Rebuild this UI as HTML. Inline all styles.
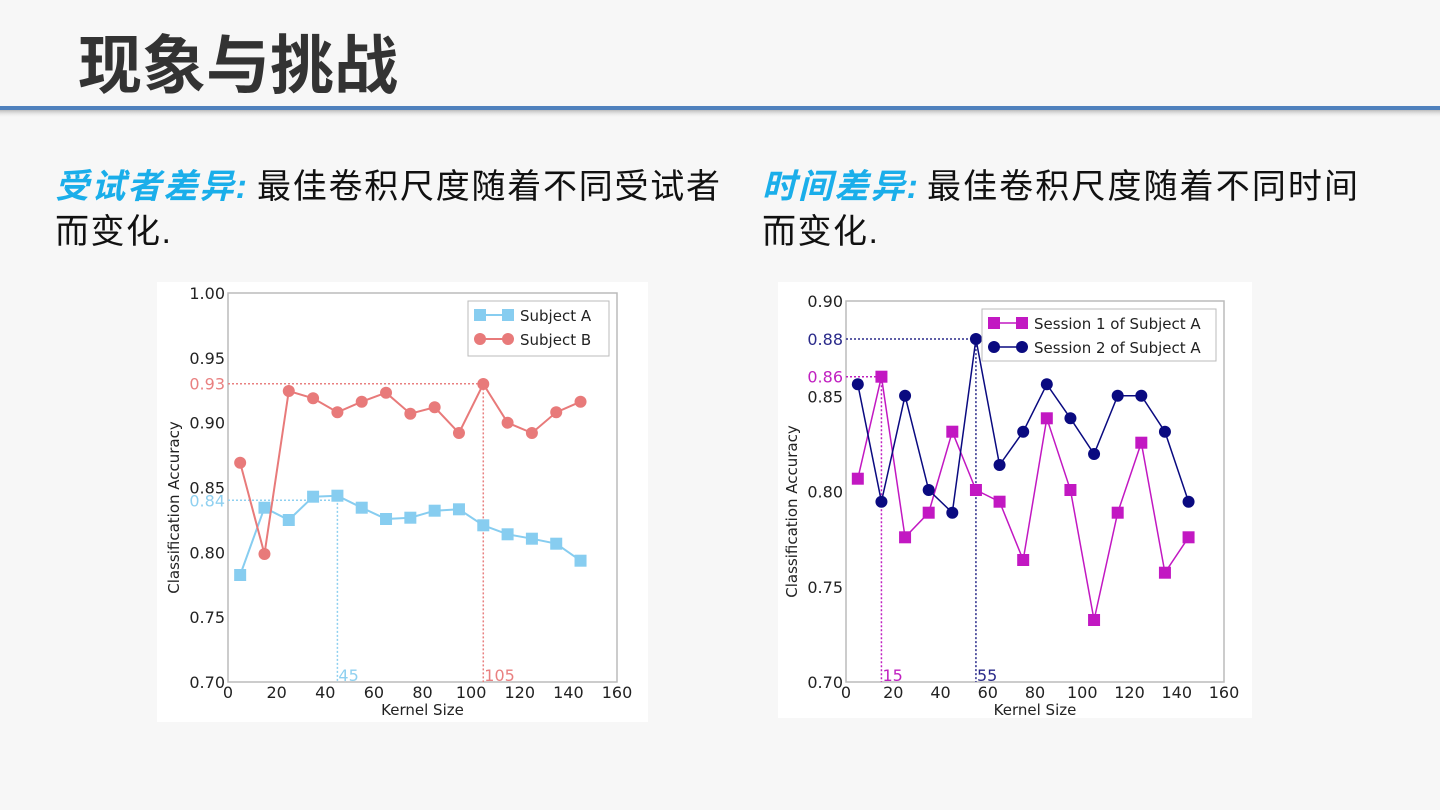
<!DOCTYPE html>
<html><head><meta charset="utf-8"><style>
html,body{margin:0;padding:0;width:1440px;height:810px;overflow:hidden;background:#f7f7f7}
svg{display:block}
</style></head><body>
<svg id="s" width="1440" height="810" xmlns="http://www.w3.org/2000/svg" font-family="'Liberation Sans','Noto Sans CJK SC',sans-serif">
<defs><linearGradient id="sh" x1="0" y1="0" x2="0" y2="1"><stop offset="0" stop-color="#bbb"/><stop offset="1" stop-color="#f7f7f7" stop-opacity="0"/></linearGradient></defs>
<rect width="1440" height="810" fill="#f7f7f7"/>
<text x="78" y="88" font-size="64" font-weight="bold" fill="#333" textLength="320" font-family="'Noto Sans CJK SC',sans-serif">现象与挑战</text>
<rect x="0" y="110" width="1440" height="8" fill="url(#sh)"/>
<rect x="0" y="106" width="1440" height="4" fill="#4f81bd"/>
<g font-family="'Liberation Sans','Noto Sans CJK SC',sans-serif" font-size="34">
<text x="55" y="198" fill="#1aaeea" font-weight="bold" font-style="italic" textLength="192">受试者差异:</text>
<text x="257" y="198" fill="#111" textLength="463">最佳卷积尺度随着不同受试者</text>
<text x="55" y="243" fill="#111" textLength="116">而变化.</text>
<text x="762" y="198" fill="#1aaeea" font-weight="bold" font-style="italic" textLength="156">时间差异:</text>
<text x="927" y="198" fill="#111" textLength="431">最佳卷积尺度随着不同时间</text>
<text x="762" y="243" fill="#111" textLength="116">而变化.</text>
</g>
<rect x="157" y="282" width="491" height="440" fill="#fff"/>
<rect x="778" y="282" width="474" height="436" fill="#fff"/>
<g id="c1" font-family="'DejaVu Sans',sans-serif"></g><g id="c2" font-family="'DejaVu Sans',sans-serif"></g>
</svg>
<script>
var NS="http://www.w3.org/2000/svg";
function el(p,t,a,txt){var e=document.createElementNS(NS,t);for(var k in a)e.setAttribute(k,a[k]);if(txt!=null)e.textContent=txt;p.appendChild(e);return e;}
function chart(g,o){
 var X=function(v){return o.x0+(o.x1-o.x0)*v/160};
 var Y=function(v){return o.y1-(o.y1-o.y0)*(v-o.ymin)/(o.ymax-o.ymin)};
 el(g,"rect",{x:o.x0,y:o.y0,width:o.x1-o.x0,height:o.y1-o.y0,fill:"none",stroke:"#bbb","stroke-width":1.5});
 for(var i=0;i<=8;i++){var v=i*20;el(g,"text",{x:X(v),y:o.y1+16,"font-size":16,"text-anchor":"middle",fill:"#222"},String(v));}
 o.yt.forEach(function(v){el(g,"text",{x:o.x0-3,y:Y(v)+6,"font-size":16,"text-anchor":"end",fill:"#222"},v.toFixed(2));});
 el(g,"text",{x:(o.x0+o.x1)/2,y:o.y1+33,"font-size":15,"text-anchor":"middle",fill:"#222"},"Kernel Size");
 el(g,"text",{x:0,y:0,"font-size":15,"text-anchor":"middle",fill:"#222",transform:"translate("+(o.x0-49)+","+((o.y0+o.y1)/2+20)+") rotate(-90)"},"Classification Accuracy");
 o.refs.forEach(function(r){
  var px=X(r.x),py=r.py;
  el(g,"polyline",{points:o.x0+","+py+" "+px+","+py+" "+px+","+o.y1,fill:"none",stroke:r.c,"stroke-width":1.5,"stroke-dasharray":"2,2"});
  el(g,"text",{x:o.x0-3,y:py+6,"font-size":16,"text-anchor":"end",fill:r.c},r.yl);
  el(g,"text",{x:px+1,y:o.y1-1,"font-size":16,fill:r.c},String(r.x));
 });
 o.series.forEach(function(s){
  var pts=s.py.map(function(p,i){return X(5+10*i)+","+p}).join(" ");
  el(g,"polyline",{points:pts,fill:"none",stroke:s.c,"stroke-width":s.w});
  s.py.forEach(function(p,i){var x=X(5+10*i);
   if(s.m=="s")el(g,"rect",{x:x-6,y:p-6,width:12,height:12,fill:s.c});
   else el(g,"circle",{cx:x,cy:p,r:6,fill:s.c});});
 });
 var L=o.leg;
 el(g,"rect",{x:L.x,y:L.y,width:L.w,height:L.h,fill:"#fff",stroke:"#bbb","stroke-width":1});
 o.series.forEach(function(s,i){var yy=L.y+14+i*24;
  el(g,"line",{x1:L.x+12,y1:yy,x2:L.x+40,y2:yy,stroke:s.c,"stroke-width":s.w});
  [L.x+12,L.x+40].forEach(function(x){ if(s.m=="s")el(g,"rect",{x:x-6,y:yy-6,width:12,height:12,fill:s.c}); else el(g,"circle",{cx:x,cy:yy,r:6,fill:s.c});});
  el(g,"text",{x:L.x+52,y:yy+6,"font-size":15,fill:"#222"},s.name);
 });
}
chart(document.getElementById("c1"),{x0:228,x1:617,y0:293,y1:682,ymin:0.70,ymax:1.00,yt:[0.70,0.75,0.80,0.85,0.90,0.95,1.00],
 refs:[{x:105,py:383.7,c:"#e98080",yl:"0.93"},{x:45,py:500.3,c:"#8fd0f0",yl:"0.84"}],
 series:[{name:"Subject A",m:"s",c:"#87cdf0",w:2,py:[575,507.7,520,496.7,495.7,507.7,519,517.7,510.7,509.3,525.3,534.3,538.7,543.7,560.7]},
 {name:"Subject B",m:"c",c:"#e87a7a",w:2,py:[462.7,554,391,398.3,412.3,401.7,392.7,413.7,407.3,433,384,422.7,433,412.3,401.7]}],
 leg:{x:468,y:301,w:141,h:55}});
chart(document.getElementById("c2"),{x0:846,x1:1224,y0:301,y1:682,ymin:0.70,ymax:0.90,yt:[0.70,0.75,0.80,0.85,0.90],
 refs:[{x:55,py:339,c:"#2a2a8a",yl:"0.88"},{x:15,py:376.7,c:"#c020c0",yl:"0.86"}],
 series:[{name:"Session 1 of Subject A",m:"s",c:"#c218c2",w:1.5,py:[478.7,376.7,537.3,512.7,431.7,490,501.7,560,418.3,490,620,512.7,442.7,572.7,537.3]},
 {name:"Session 2 of Subject A",m:"c",c:"#0a0a80",w:1.5,py:[384.3,501.7,395.7,490,512.7,339,465,431.7,384.3,418.3,454,395.7,395.7,431.7,501.7]}],
 leg:{x:982,y:309,w:234,h:52}});
</script>
</body></html>
